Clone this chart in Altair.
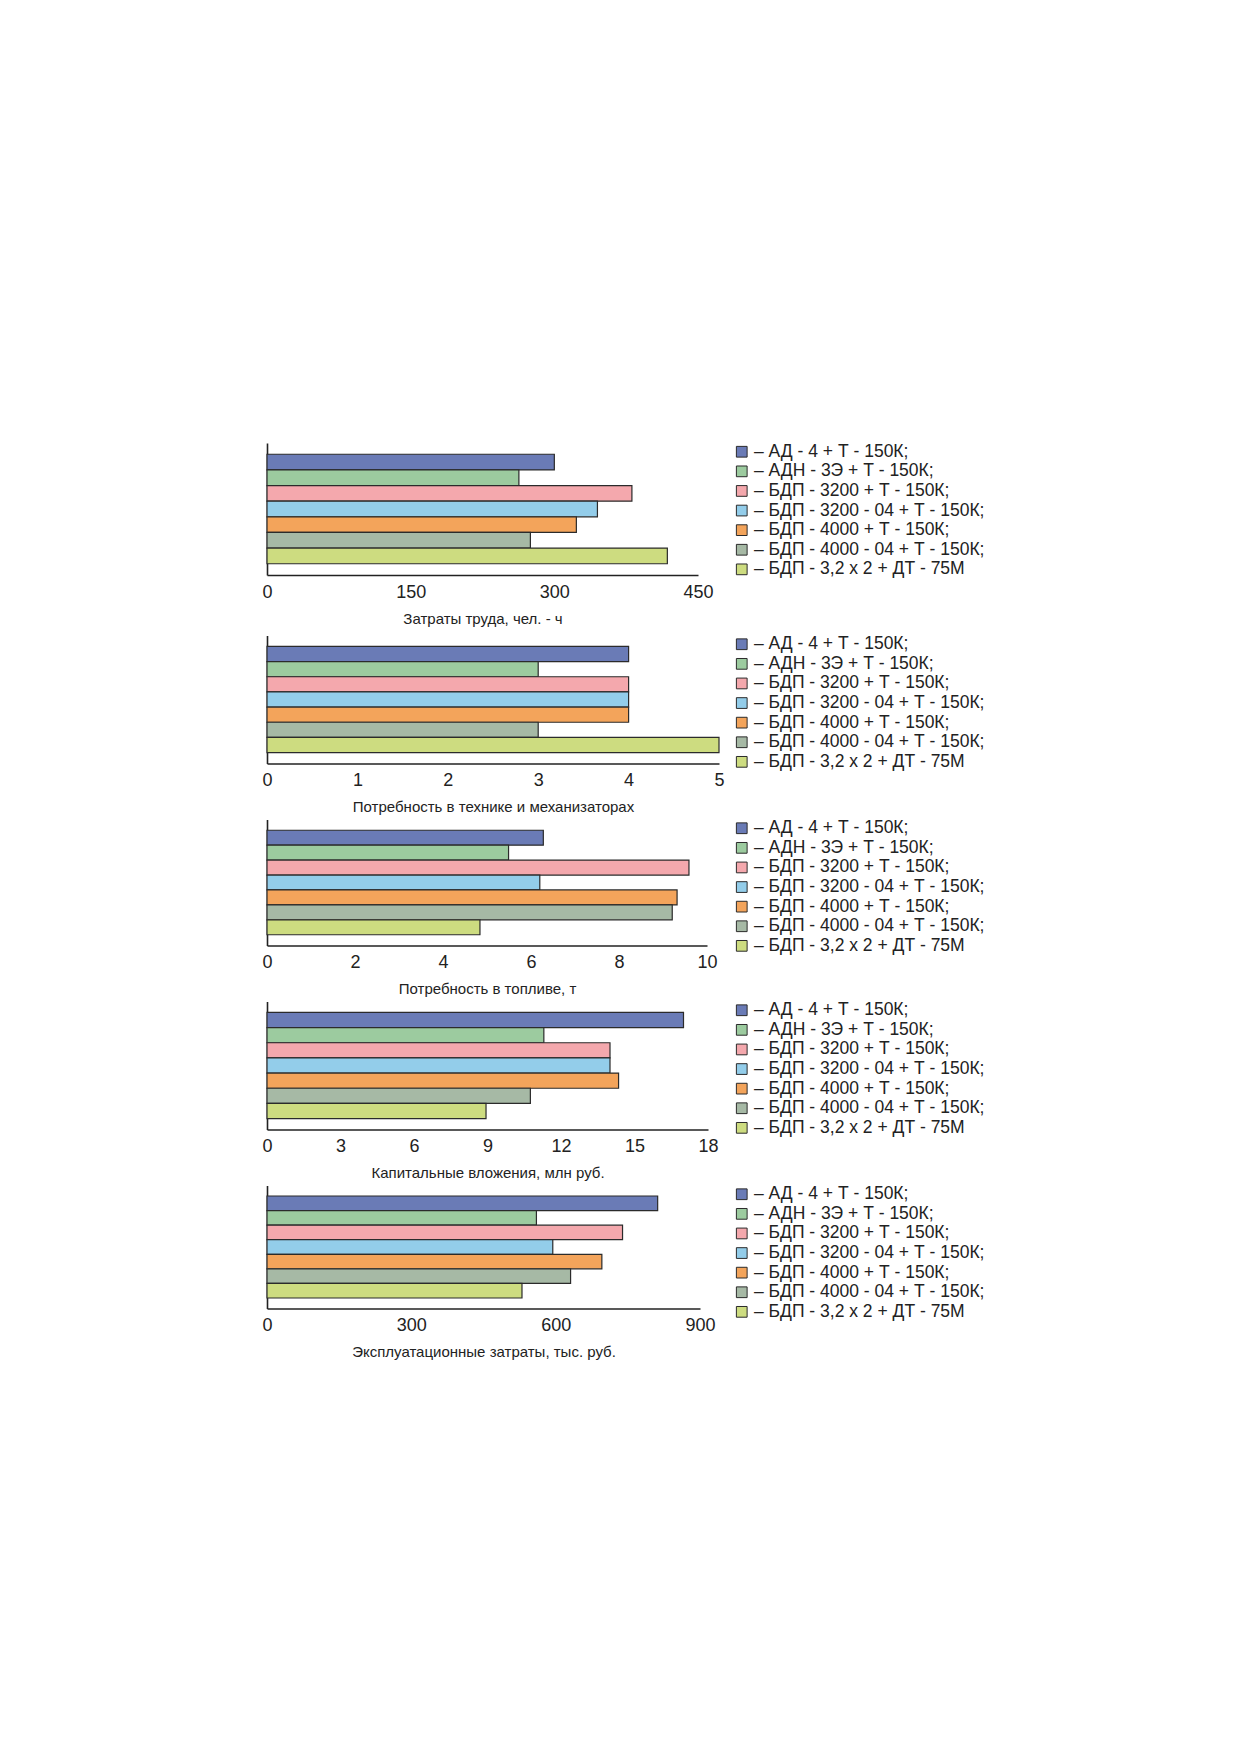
import altair as alt
import pandas as pd

labels = [
    "– АД - 4 + Т - 150К;",
    "– АДН - 3Э + Т - 150К;",
    "– БДП - 3200 + Т - 150К;",
    "– БДП - 3200 - 04 + Т - 150К;",
    "– БДП - 4000 + Т - 150К;",
    "– БДП - 4000 - 04 + Т - 150К;",
    "– БДП - 3,2 х 2 + ДТ - 75М",
]
colors = ["#6a7bb6", "#9ccb9f", "#f4a8ad", "#93cdea", "#f3a45b", "#a6b9a5", "#cddc80"]

labour = [300, 263, 381, 345, 323, 275, 418]
machines = [4, 3, 4, 4, 4, 3, 5]
fuel = [6.28, 5.49, 9.59, 6.2, 9.32, 9.21, 4.84]
capital = [17.0, 11.3, 14.0, 14.0, 14.35, 10.75, 8.94]
operating = [812, 560, 739, 594, 696, 631, 530]

titles = [
    "Затраты труда, чел. - ч",
    "Потребность в технике и механизаторах",
    "Потребность в топливе, т",
    "Капитальные вложения, млн руб.",
    "Эксплуатационные затраты, тыс. руб.",
]
maxima = [450, 5, 10, 18, 900]
tick_sets = [
    [0, 150, 300, 450],
    [0, 1, 2, 3, 4, 5],
    [0, 2, 4, 6, 8, 10],
    [0, 3, 6, 9, 12, 15, 18],
    [0, 300, 600, 900],
]
widths = [431, 452, 440, 441, 433]
heights = [132, 128, 126, 128, 123]
series = [labour, machines, fuel, capital, operating]

FONT = "Liberation Sans, Arial, Helvetica, sans-serif"


def panel(values, maxv, ticks, title, w, h):
    df = pd.DataFrame({"cat": labels, "val": values})
    return (
        alt.Chart(df)
        .mark_bar(stroke="#2b2b2b", strokeWidth=1.2)
        .encode(
            y=alt.Y(
                "cat:N",
                sort=labels,
                scale=alt.Scale(paddingInner=0, paddingOuter=0.72),
                axis=alt.Axis(
                    labels=False, ticks=False, title=None, grid=False,
                    domainColor="#222222", domainWidth=1.6,
                ),
            ),
            x=alt.X(
                "val:Q",
                scale=alt.Scale(domain=[0, maxv], nice=False, zero=True),
                axis=alt.Axis(
                    values=ticks, ticks=False, grid=False, title=title,
                    domainColor="#222222", domainWidth=1.6,
                    labelFontSize=18, labelColor="#222222", labelPadding=8,
                    labelFont=FONT, labelFlush=False, labelOverlap=False,
                    titleFontSize=15, titleFontWeight="normal", titleColor="#222222",
                    titleFont=FONT, titlePadding=10,
                ),
            ),
            color=alt.Color(
                "cat:N",
                sort=labels,
                scale=alt.Scale(domain=labels, range=colors),
                legend=alt.Legend(
                    title=None, orient="none", legendX=466, legendY=0,
                    symbolType="square", symbolSize=115,
                    symbolStrokeColor="#2b2b2b", symbolStrokeWidth=1,
                    labelFontSize=17.5, labelFont=FONT, labelColor="#222222",
                    labelOffset=3.5, rowPadding=0.6, padding=0, labelLimit=400,
                ),
            ),
        )
        .properties(width=w, height=h, view=alt.ViewBackground(stroke="transparent", strokeWidth=0))
    )


panels = [
    panel(series[i], maxima[i], tick_sets[i], titles[i], widths[i], heights[i])
    for i in range(5)
]

lower = (
    alt.vconcat(*panels[1:], spacing=5)
    .resolve_scale(x="independent", y="independent", color="independent")
    .resolve_legend(color="independent")
)

chart = (
    alt.vconcat(panels[0], lower, spacing=9.5)
    .resolve_scale(x="independent", y="independent", color="independent")
    .resolve_legend(color="independent")
    .properties(padding={"left": 253, "top": 435, "right": 10, "bottom": 10})
    .configure(font=FONT, background="white")
    .configure_view(stroke="transparent", strokeWidth=0)
)

chart.save("out.html", embed_options={"renderer": "svg", "actions": False})
